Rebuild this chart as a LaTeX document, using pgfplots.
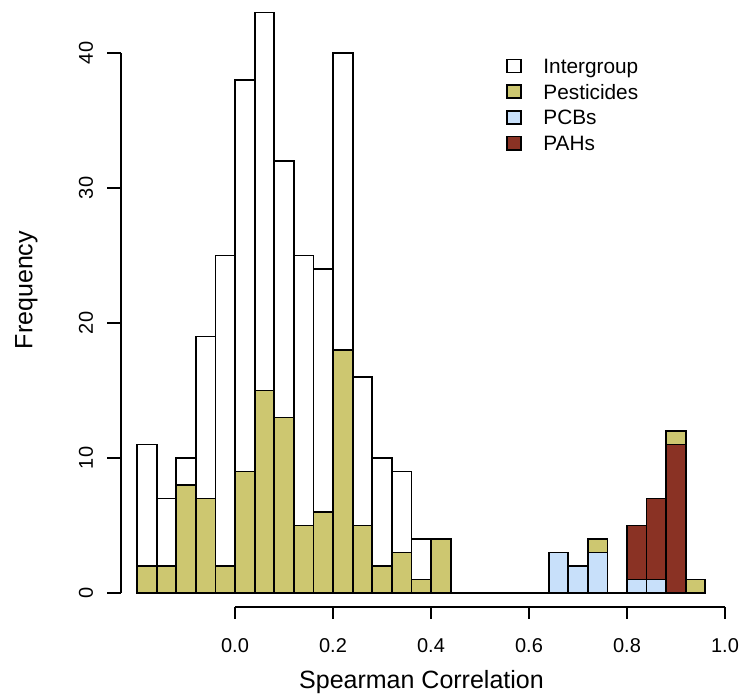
\documentclass[border=0pt]{standalone}
\usepackage{fontspec}
\setmainfont{Liberation Sans}
\usepackage{pgfplots}
\pgfplotsset{compat=1.18}

\definecolor{pest}{RGB}{205,199,112}
\definecolor{pcb}{RGB}{200,224,250}
\definecolor{pah}{RGB}{138,50,36}

\tikzset{
  lbl/.style={font=\fontsize{10.4}{12}\selectfont, inner sep=0pt, anchor=base west},
  key/.style={line width=0.9pt},
}

% bin centres (width 0.04) and counts
\pgfplotstableread{
x y
-0.18 11
-0.14 7
-0.10 10
-0.06 19
-0.02 25
0.02 38
0.06 43
0.10 32
0.14 25
0.18 24
0.22 40
0.26 16
0.30 10
0.34 9
0.38 4
0.42 4
}\intergroup

\pgfplotstableread{
x y
-0.18 2
-0.14 2
-0.10 8
-0.06 7
-0.02 2
0.02 9
0.06 15
0.10 13
0.14 5
0.18 6
0.22 18
0.26 5
0.30 2
0.34 3
0.38 1
0.42 4
0.46 0
0.50 0
0.54 0
0.58 0
0.62 0
0.66 0
0.70 0
0.74 4
0.78 0
0.82 0
0.86 0
0.90 12
0.94 1
}\pesticides

\pgfplotstableread{
x y
0.82 5
0.86 7
0.90 11
}\pahs

\pgfplotstableread{
x y
0.66 3
0.70 2
0.74 3
0.82 1
0.86 1
}\pcbs

\begin{document}
\begin{tikzpicture}
\begin{axis}[
    scale only axis,
    width=372pt, height=350pt,
    xmin=-0.4796, xmax=1.0388,
    ymin=-7.926, ymax=43.926,
    hide axis,
    clip=false,
    hist/.style={ybar, bar width=0.04, bar shift=0pt, draw=black, line width=0.9pt},
]
\addplot[hist, fill=white] table {\intergroup};
\addplot[hist, fill=pest] table {\pesticides};
\addplot[hist, fill=pah] table {\pahs};
\addplot[hist, fill=pcb] table {\pcbs};

% x axis (0 to 1)
\draw[line width=0.9pt] (axis cs:0,-1.037) -- (axis cs:1,-1.037);
\pgfplotsinvokeforeach{0.0,0.2,0.4,0.6,0.8,1.0}{
  \draw[line width=0.9pt] (axis cs:#1,-1.037) -- (axis cs:#1,-1.926);
  \node[anchor=base, font=\fontsize{10}{12}\selectfont, inner sep=0pt] at (axis cs:#1,-4.444) {#1};
}
\node[anchor=base, font=\fontsize{12.5}{15}\selectfont, inner sep=0pt] at (axis cs:0.3806,-7.111) {Spearman Correlation};

% y axis (0 to 40)
\draw[line width=0.9pt] (axis cs:-0.2333,0) -- (axis cs:-0.2333,40);
\pgfplotsinvokeforeach{0,10,20,30,40}{
  \draw[line width=0.9pt] (axis cs:-0.2333,#1) -- (axis cs:-0.2618,#1);
  \node[rotate=90, anchor=base, font=\fontsize{10}{12}\selectfont, inner sep=0pt] at (axis cs:-0.2901,#1) {#1};
}
\node[rotate=90, anchor=base, font=\fontsize{12.5}{15}\selectfont, inner sep=0pt] at (axis cs:-0.4133,22.44) {Frequency};

% legend
\draw[key, fill=white] (axis cs:0.5551,38.551) rectangle (axis cs:0.5837,39.521);
\node[lbl] at (axis cs:0.6286,38.481) {Intergroup};
\draw[key, fill=pest] (axis cs:0.5551,36.648) rectangle (axis cs:0.5837,37.618);
\node[lbl] at (axis cs:0.6286,36.578) {Pesticides};
\draw[key, fill=pcb] (axis cs:0.5551,34.744) rectangle (axis cs:0.5837,35.714);
\node[lbl] at (axis cs:0.6286,34.674) {PCBs};
\draw[key, fill=pah] (axis cs:0.5551,32.840) rectangle (axis cs:0.5837,33.810);
\node[lbl] at (axis cs:0.6286,32.770) {PAHs};
\end{axis}
\pgfresetboundingbox
\path (current axis.south west) rectangle (current axis.north east);
\end{tikzpicture}
\end{document}
